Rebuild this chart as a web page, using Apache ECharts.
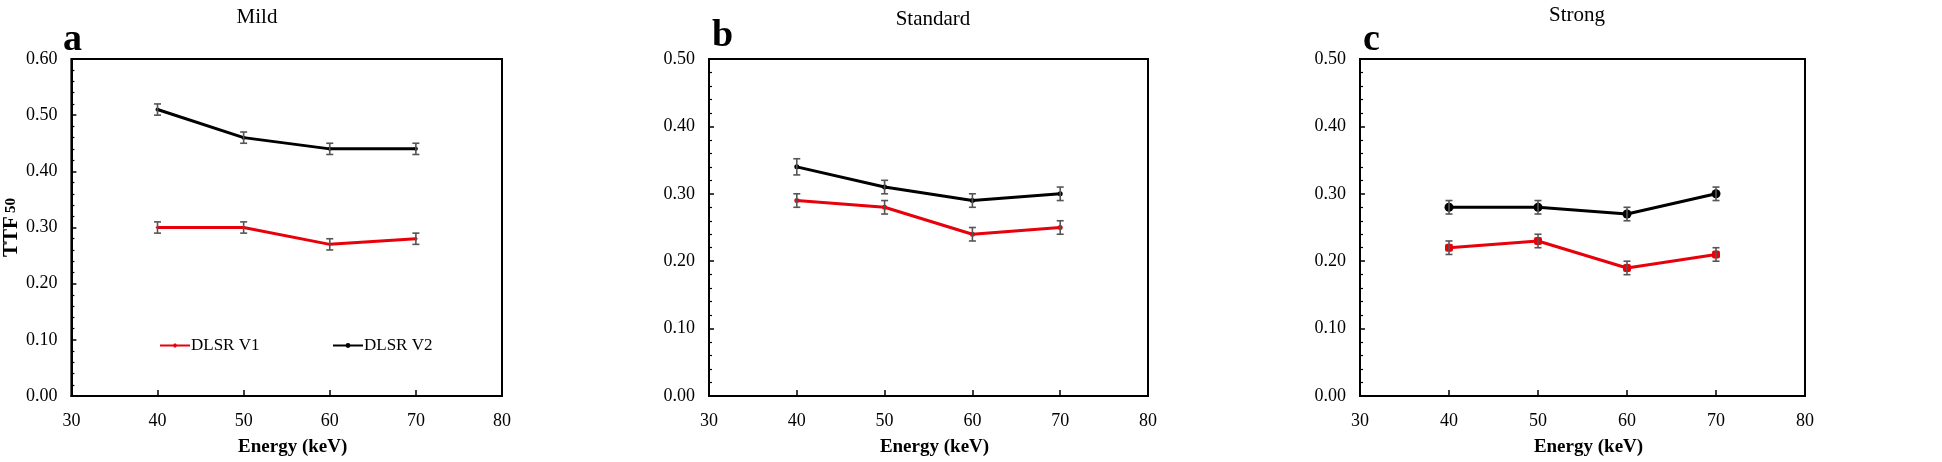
<!DOCTYPE html>
<html><head><meta charset="utf-8">
<script src="https://cdn.jsdelivr.net/npm/echarts@6/dist/echarts.min.js"></script>
<style>html,body{margin:0;padding:0;background:#fff}#c{width:1942px;height:462px}</style>
</head><body><div id="c"></div>
<script>
// ---- data ----
const energies = [40, 50, 60, 70];
const panelTitles = ['Mild', 'Standard', 'Strong'];
const panelLetters = ['a', 'b', 'c'];
const seriesNames = ['DLSR V1', 'DLSR V2'];
const mildV1 = [0.30, 0.30, 0.27, 0.28];
const mildV2 = [0.51, 0.46, 0.44, 0.44];
const standardV1 = [0.29, 0.28, 0.24, 0.25];
const standardV2 = [0.34, 0.31, 0.29, 0.30];
const strongV1 = [0.22, 0.23, 0.19, 0.21];
const strongV2 = [0.28, 0.28, 0.27, 0.30];
const mildV1Err = [0.01, 0.01, 0.01, 0.01];
const mildV2Err = [0.01, 0.01, 0.01, 0.01];
const standardV1Err = [0.01, 0.01, 0.01, 0.01];
const standardV2Err = [0.012, 0.01, 0.01, 0.01];
const strongV1Err = [0.01, 0.01, 0.01, 0.01];
const strongV2Err = [0.01, 0.01, 0.01, 0.01];
const yMaxes = [0.6, 0.5, 0.5];
const xMin = 30, xMax = 80, xStep = 10;
const yStep = 0.1;

const panelsV1 = [mildV1, standardV1, strongV1];
const panelsV2 = [mildV2, standardV2, strongV2];
const panelsV1Err = [mildV1Err, standardV1Err, strongV1Err];
const panelsV2Err = [mildV2Err, standardV2Err, strongV2Err];

// ---- layout / style ----
const FONT = '"Liberation Serif", "Times New Roman", serif';
const grids = [
  {left: 63, top: 59, width: 439, height: 338},
  {left: 709, top: 59, width: 439, height: 338},
  {left: 1360, top: 59, width: 445, height: 338}
];
const titlePos = [[252, 2], [928, 4], [1572, 0]];
const letterPos = [[58, 16], [707, 12], [1358, 16]];
const RED = '#e8000a', BLACK = '#000000', ERR = '#555555';
const symbolStyles = [
  {v1: ['diamond', 4], v2: ['circle', 4]},
  {v1: ['circle', 5], v2: ['circle', 5]},
  {v1: ['roundRect', 8], v2: ['circle', 9]}
];

const chart = echarts.init(document.getElementById('c'));

const option = {
  backgroundColor: '#fff',
  animation: false,
  title: [],
  grid: [],
  xAxis: [],
  yAxis: [],
  legend: [],
  series: []
};

function errRender(params, api) {
  const x = api.value(0), lo = api.value(1), hi = api.value(2);
  const a = api.coord([x, lo]), b = api.coord([x, hi]);
  const w = 3.5;
  const st = {stroke: ERR, lineWidth: 1.6};
  return {type: 'group', children: [
    {type: 'line', shape: {x1: a[0], y1: a[1], x2: b[0], y2: b[1]}, style: st},
    {type: 'line', shape: {x1: a[0] - w, y1: a[1], x2: a[0] + w, y2: a[1]}, style: st},
    {type: 'line', shape: {x1: b[0] - w, y1: b[1], x2: b[0] + w, y2: b[1]}, style: st}
  ]};
}

for (let i = 0; i < 3; i++) {
  const g = grids[i];
  option.grid.push(Object.assign({show: true, borderColor: '#000', borderWidth: 2, backgroundColor: 'transparent', containLabel: false}, g));
  option.title.push({
    text: panelTitles[i], left: titlePos[i][0], top: titlePos[i][1], textAlign: 'center',
    textStyle: {fontFamily: FONT, fontWeight: 'normal', fontSize: 21, color: '#000'}
  });
  option.title.push({
    text: panelLetters[i], left: letterPos[i][0], top: letterPos[i][1],
    textStyle: {fontFamily: FONT, fontWeight: 'bold', fontSize: 38, color: '#000'}
  });
  option.xAxis.push({
    type: 'value', gridIndex: i, min: xMin, max: xMax, interval: xStep,
    name: 'Energy (keV)', nameLocation: 'middle', nameGap: 42,
    nameTextStyle: {fontFamily: FONT, fontWeight: 'bold', fontSize: 19, color: '#000', padding: [0, 0, 0, 12]},
    axisLine: {show: true, lineStyle: {color: '#000', width: 2}},
    axisTick: {show: true, inside: true, length: 6, lineStyle: {color: '#000', width: 1.5}},
    axisLabel: {fontFamily: FONT, fontSize: 18, color: '#000', margin: 16},
    splitLine: {show: false}
  });
  const yAxis = {
    type: 'value', gridIndex: i, min: 0, max: yMaxes[i], interval: yStep,
    axisLine: {show: true, lineStyle: {color: '#000', width: 2}},
    axisTick: {show: true, inside: true, length: 5, lineStyle: {color: '#000', width: 1.5}},
    minorTick: {show: true, splitNumber: 5, length: 3, lineStyle: {color: '#000', width: 1.2}},
    axisLabel: {fontFamily: FONT, fontSize: 18, color: '#000', margin: 14, formatter: v => v.toFixed(2)},
    splitLine: {show: false}
  };
  if (i === 0) {
    yAxis.name = '{a|TTF} {b|50}';
    yAxis.nameLocation = 'middle';
    yAxis.nameGap = 45;
    yAxis.nameTextStyle = {
      padding: [0, 0, 0, 0],
      rich: {
        a: {fontFamily: FONT, fontWeight: 'bold', fontSize: 21, color: '#000'},
        b: {fontFamily: FONT, fontWeight: 'bold', fontSize: 15, color: '#000'}
      }
    };
  }
  option.yAxis.push(yAxis);

  const sets = [
    {name: seriesNames[0], vals: panelsV1[i], errs: panelsV1Err[i], color: RED, sym: symbolStyles[i].v1},
    {name: seriesNames[1], vals: panelsV2[i], errs: panelsV2Err[i], color: BLACK, sym: symbolStyles[i].v2}
  ];
  sets.forEach(s => {
    option.series.push({
      type: 'line', name: s.name, xAxisIndex: i, yAxisIndex: i,
      data: energies.map((e, k) => [e, s.vals[k]]),
      color: s.color,
      lineStyle: {color: s.color, width: 3},
      itemStyle: {color: s.color},
      symbol: s.sym[0], symbolSize: s.sym[1], showSymbol: true,
      z: 2
    });
    option.series.push({
      type: 'custom', name: s.name + ' err', xAxisIndex: i, yAxisIndex: i,
      data: energies.map((e, k) => [e, s.vals[k] - s.errs[k], s.vals[k] + s.errs[k]]),
      renderItem: errRender, z: 3, silent: true
    });
  });
}

option.legend.push({
  data: [seriesNames[0]], left: 154, top: 332, itemWidth: 30, itemHeight: 6, itemGap: 0,
  textStyle: {fontFamily: FONT, fontSize: 17, color: '#000', padding: [0, 0, 0, -4]}
});
option.legend.push({
  data: [seriesNames[1]], left: 327, top: 332, itemWidth: 30, itemHeight: 6, itemGap: 0,
  textStyle: {fontFamily: FONT, fontSize: 17, color: '#000', padding: [0, 0, 0, -4]}
});

chart.setOption(option);
</script></body></html>
